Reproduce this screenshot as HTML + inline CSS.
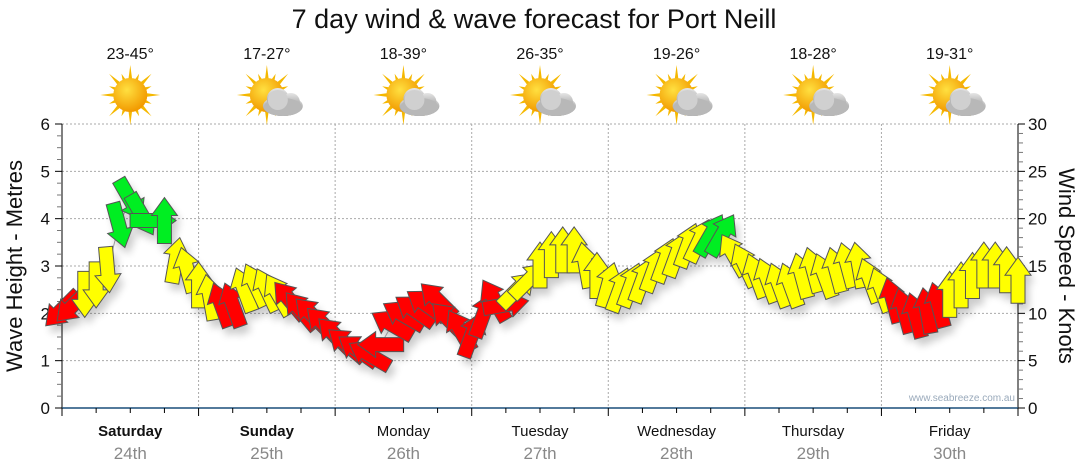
<!DOCTYPE html>
<html><head><meta charset="utf-8"><style>
html,body{margin:0;padding:0;background:#fff;}
svg{display:block;font-family:"Liberation Sans","DejaVu Sans",sans-serif;}
</style></head><body>
<svg id="chart" width="1080" height="475" viewBox="0 0 1080 475" xmlns="http://www.w3.org/2000/svg">
<defs>
<filter id="sh" x="-50%" y="-50%" width="200%" height="200%"><feGaussianBlur stdDeviation="4"/></filter>
<radialGradient id="sunG" cx="40%" cy="35%" r="65%"><stop offset="0" stop-color="#ffe040"/><stop offset="1" stop-color="#f29a00"/></radialGradient>
<linearGradient id="cloudG" x1="0" y1="0" x2="0" y2="1"><stop offset="0" stop-color="#e6e6e6"/><stop offset="1" stop-color="#8c8c8c"/></linearGradient>
</defs>
<text x="534" y="28" font-size="27" text-anchor="middle" fill="#111">7 day wind &amp; wave forecast for Port Neill</text>
<g id="grid"></g>
<g id="axes"></g>
<g id="weather"></g>
<g id="shadows" filter="url(#sh)" opacity="0.2"></g>
<polyline id="trend" fill="none" stroke="#999" stroke-width="1"/>
<g id="arrows"></g>
<text x="1015" y="401" font-size="10" text-anchor="end" fill="#9aaabb">www.seabreeze.com.au</text>
<text transform="translate(22,266) rotate(-90)" font-size="22" text-anchor="middle" fill="#111">Wave Height - Metres</text>
<text transform="translate(1059,266) rotate(90)" font-size="22" text-anchor="middle" fill="#111">Wind Speed - Knots</text>
</svg>
<script>
const days = ["Saturday","Sunday","Monday","Tuesday","Wednesday","Thursday","Friday"];
const dates = ["24th","25th","26th","27th","28th","29th","30th"];
const boldDays = [true,true,false,false,false,false,false];
const temps = ["23-45°","17-27°","18-39°","26-35°","19-26°","18-28°","19-31°"];
const cloudy = [false,true,true,true,true,true,true];
const waveTicks = [0,1,2,3,4,5,6];
const windTicks = [0,5,10,15,20,25,30];
const hours = [0,2,4,6,8,10,12,14,16,18,20,22,24,26,28,30,32,34,36,38,40,42,44,46,48,50,52,54,56,58,60,62,64,66,68,70,72,74,76,78,80,82,84,86,88,90,92,94,96,98,100,102,104,106,108,110,112,114,116,118,120,122,124,126,128,130,132,134,136,138,140,142,144,146,148,150,152,154,156,158,160,162,164,166,168];
const windSpeed = [10.4,10.9,12,13,14.6,19.3,22,20.4,19.8,19.8,15.6,14.6,13,11.7,10.9,10.9,12.5,13,12.5,12,11.4,10.3,9.8,8.8,7.7,6.7,6.1,5.6,6.7,8.8,9.8,10.3,10.9,11.4,9.3,8.2,7.7,9.8,11.4,10.9,12.5,13.5,15.1,16.2,16.7,16.7,15.1,14,13,12.5,13,13.5,14.6,15.6,16.2,17.2,17.7,18.3,18.3,16.2,15.1,14,13.5,13,13,14,14.6,14,14.6,15.1,15.1,13.5,12.5,11.4,10.3,9.8,10.3,10.9,12,13,14,15.1,15.1,14.6,13.5];
const windDir = [225,225,180,180,175,165,150,150,90,0,10,345,0,350,340,340,340,335,335,330,320,320,315,315,315,310,305,300,270,300,300,305,305,315,315,330,20,20,330,80,45,45,0,0,0,0,350,0,15,20,20,20,20,20,20,20,25,30,30,330,335,340,340,340,340,345,345,340,345,345,350,340,340,345,345,345,350,345,0,0,0,0,0,0,0];

const svg=document.getElementById('chart');
const NS="http://www.w3.org/2000/svg";
const X0=62,X1=1018,Y0=408,Y1=124;
const xS=h=>X0+h*(X1-X0)/168;
const yW=m=>Y0-m*(Y0-Y1)/6;
const yK=k=>Y0-k*(Y0-Y1)/30;
function mk(tag,attrs,parent){const e=document.createElementNS(NS,tag);for(const k in attrs)e.setAttribute(k,attrs[k]);parent.appendChild(e);return e;}
const grid=document.getElementById('grid'),axes=document.getElementById('axes'),wx=document.getElementById('weather');
waveTicks.forEach(m=>{if(m>0){const l=mk('line',{x1:X0,x2:X1,y1:yW(m),y2:yW(m),stroke:'#aaa','stroke-dasharray':'2,2'},grid);

}});
for(let d=1;d<7;d++){const l=mk('line',{x1:xS(d*24),x2:xS(d*24),y1:Y1,y2:Y0,stroke:'#aaa','stroke-dasharray':'2,2'},grid);

}
mk('line',{x1:X0,x2:X0,y1:Y1,y2:Y0+1,stroke:'#000'},axes);
mk('line',{x1:X1,x2:X1,y1:Y1,y2:Y0+1,stroke:'#000'},axes);
mk('line',{x1:X0,x2:X1,y1:Y0,y2:Y0,stroke:'#1a4f7a','stroke-width':1.5},axes);
for(let i=0;i<=24;i++){const y=yW(i/4);mk('line',{x1:i%4?X0-5:X0-7,x2:X0,y1:y,y2:y,stroke:i%4?'#777':'#000'},axes);}
for(let k=0;k<=30;k++){const y=yK(k);mk('line',{x1:X1,x2:X1+(k%5?5:7),y1:y,y2:y,stroke:k%5?'#777':'#000'},axes);}
waveTicks.forEach(m=>{const t=mk('text',{x:50,y:yW(m)+6,'font-size':17,'text-anchor':'end',fill:'#111'},axes);t.textContent=m;

});
windTicks.forEach(k=>{const t=mk('text',{x:1028,y:yK(k)+6,'font-size':17,fill:'#111'},axes);t.textContent=k;

});
for(let h=0;h<=168;h+=6){mk('line',{x1:xS(h),x2:xS(h),y1:Y0,y2:Y0+(h%24?5:8),stroke:'#000'},axes);}
days.forEach((d,i)=>{const cx=xS(i*24+12);
const t=mk('text',{x:cx,y:436,'font-size':15,'text-anchor':'middle',fill:'#111','font-weight':boldDays[i]?'bold':'normal'},axes);t.textContent=d;


const t2=mk('text',{x:cx,y:459,'font-size':17,'text-anchor':'middle',fill:'#888'},axes);t2.textContent=dates[i];


const t3=mk('text',{x:cx,y:59,'font-size':16,'text-anchor':'middle',fill:'#111'},wx);t3.textContent=temps[i];


const g=mk('g',{transform:`translate(${cx},95)`},wx);


for(let r=0;r<16;r++){const a=r*22.5*Math.PI/180,L=r%2?23:30;
mk('polygon',{points:`${Math.cos(a)*L},${Math.sin(a)*L} ${Math.cos(a+0.15)*14},${Math.sin(a+0.15)*14} ${Math.cos(a-0.15)*14},${Math.sin(a-0.15)*14}`,fill:'#f5b800'},g);}
mk('circle',{r:17,fill:'url(#sunG)'},g);
if(cloudy[i]){const c=mk('g',{transform:'translate(15,6)'},g);
mk('ellipse',{cx:1,cy:5,rx:20,ry:10,fill:'url(#cloudG)'},c);
mk('circle',{cx:-4,cy:-2,r:11,fill:'url(#cloudG)'},c);
mk('circle',{cx:9,cy:1,r:9,fill:'url(#cloudG)'},c);
mk('ellipse',{cx:1,cy:6,rx:19,ry:9,fill:'#b8b8b8'},c);
mk('circle',{cx:-4,cy:-1,r:10,fill:'#d0d0d0'},c);}
});
const arrowsG=document.getElementById('arrows'),shG=document.getElementById('shadows');
const shape="0,-23 13,-5 7,-5 7,23 -7,23 -7,-5 -13,-5";
const col=k=>k<11.6?'#ff0000':(k<18?'#ffff00':'#00ee22');
const pts=[];
hours.forEach((h,i)=>{const x=xS(h),y=yK(windSpeed[i]);pts.push(x+','+y);
mk('polygon',{points:shape,transform:`translate(${x+4},${y+7}) rotate(${windDir[i]})`,fill:'#000'},shG);
const a=mk('polygon',{points:shape,transform:`translate(${x},${y}) rotate(${windDir[i]})`,fill:col(windSpeed[i]),stroke:'#555','stroke-width':1},arrowsG);


});
document.getElementById('trend').setAttribute('points',pts.join(' '));
</script>
</body></html>
